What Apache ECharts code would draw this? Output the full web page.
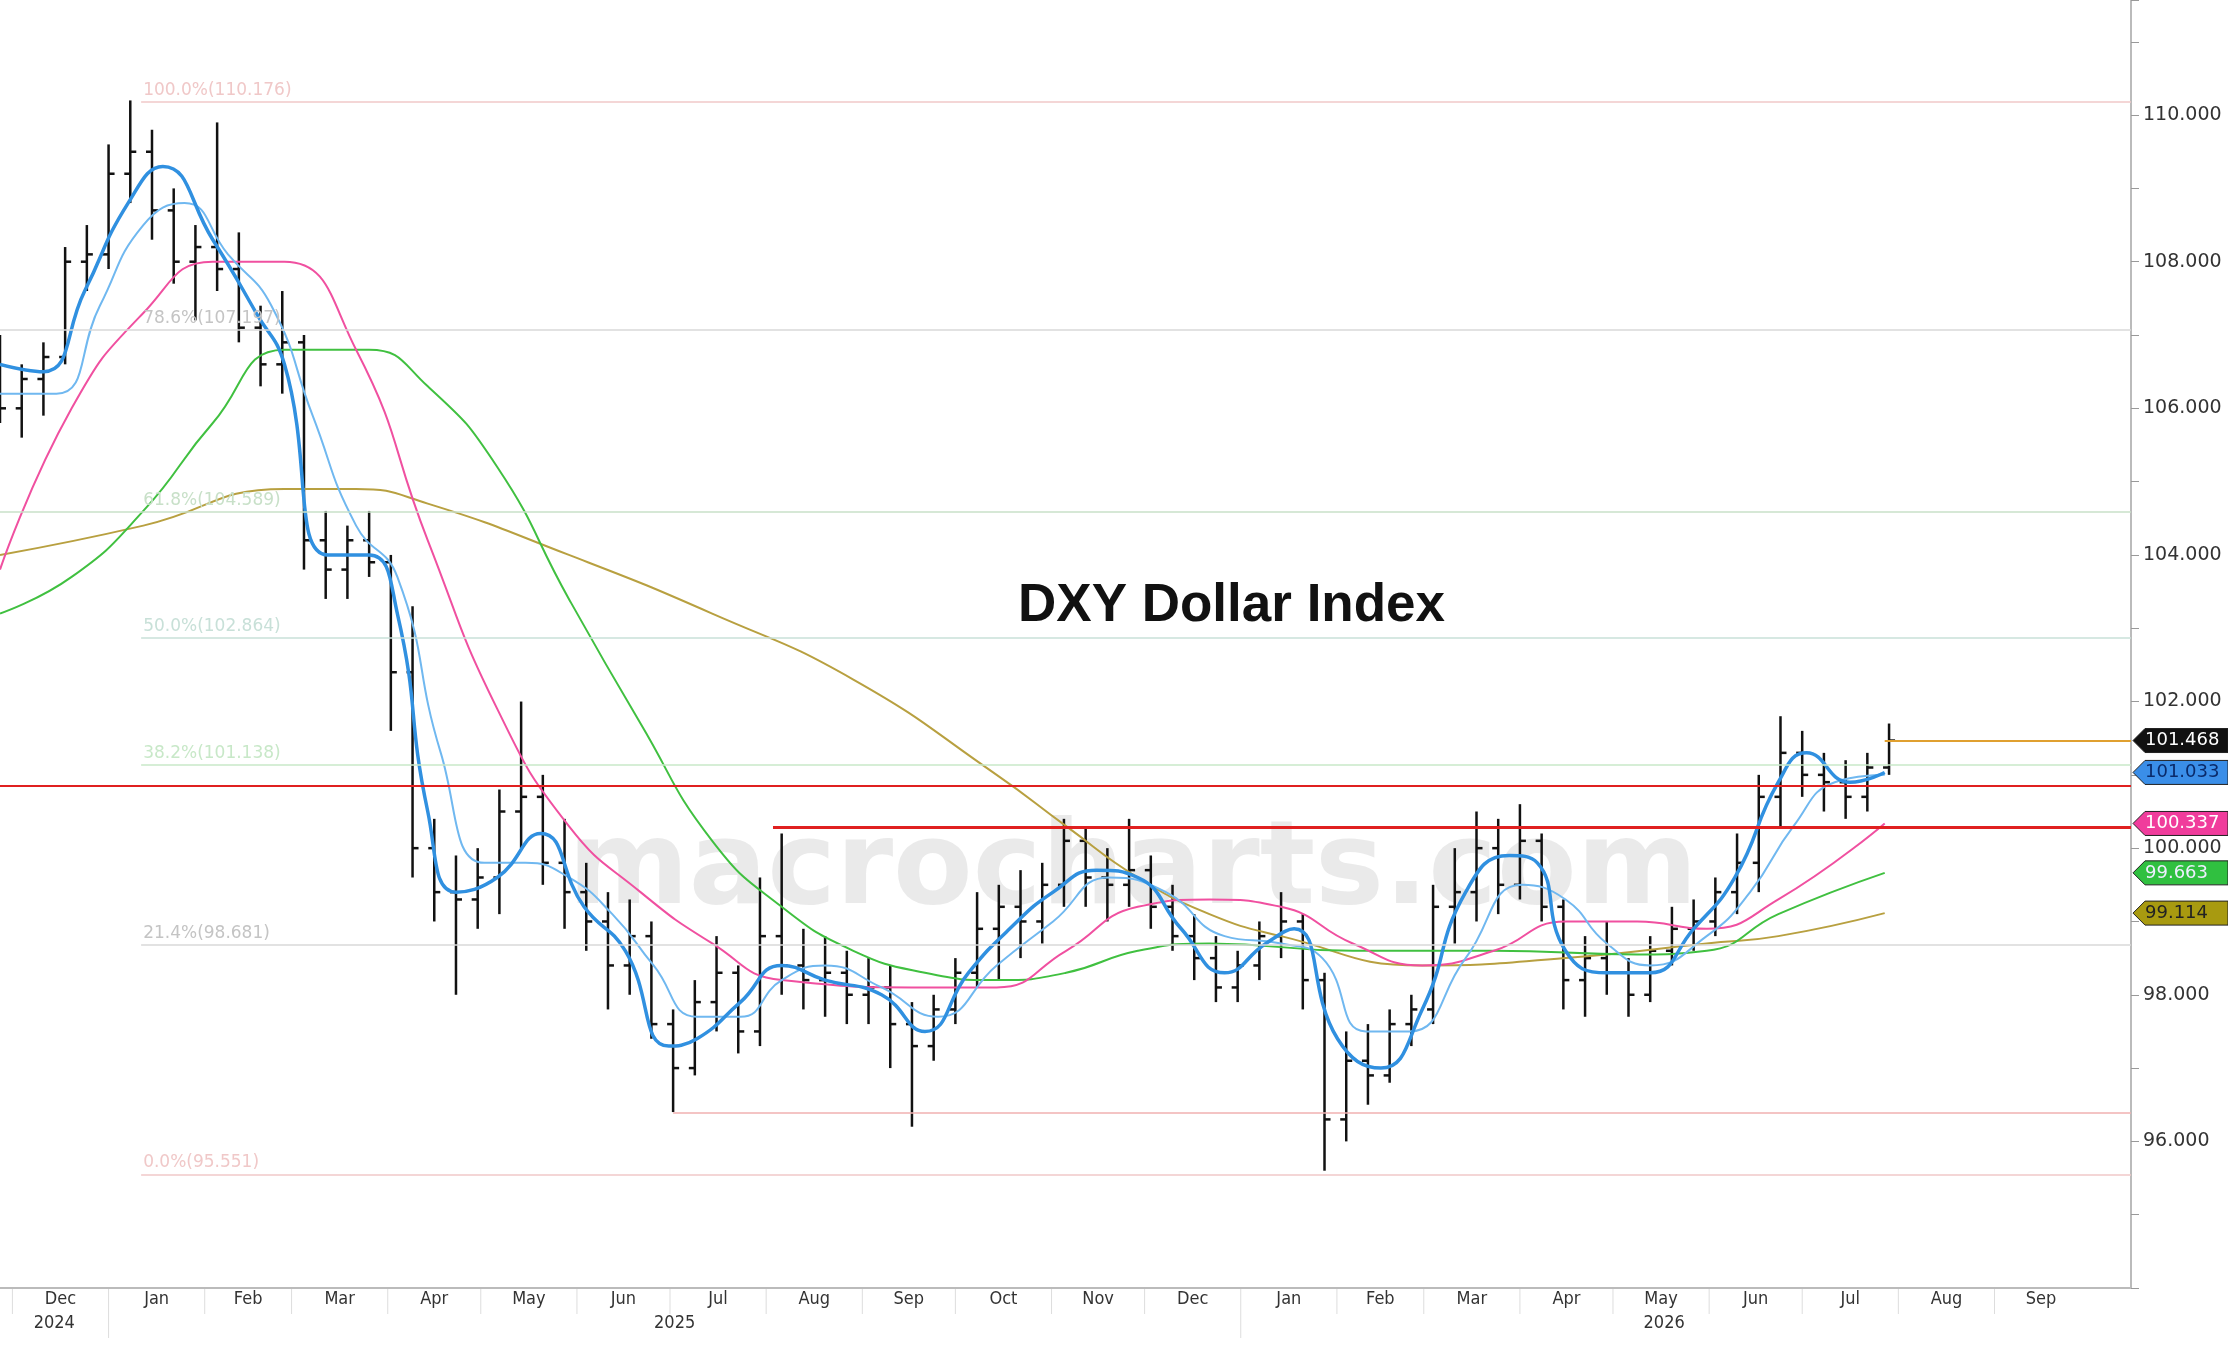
<!DOCTYPE html>
<html><head><meta charset="utf-8">
<script src="https://cdn.jsdelivr.net/npm/echarts@6/dist/echarts.min.js"></script>
<style>html,body{margin:0;padding:0;background:#fff}#c{width:2228px;height:1364px}</style>
</head><body><div id="c"></div>
<script>
// weekly bars, week 0 = 2024-11-27
var startDate = Date.UTC(2024, 10, 27);
var endDate = Date.UTC(2026, 9, 15);

// [open, high, low, close]
var ohlc = [
 [106.5,107.0,105.8,106.0],[106.0,106.6,105.6,106.4],[106.4,106.9,105.9,106.7],[106.7,108.2,106.6,108.0],
 [108.0,108.5,107.6,108.1],[108.1,109.6,107.9,109.2],[109.2,110.2,108.8,109.5],[109.5,109.8,108.3,108.7],
 [108.7,109.0,107.7,108.0],[108.0,108.5,107.2,108.2],[108.2,109.9,107.6,107.9],[107.9,108.4,106.9,107.1],
 [107.1,107.4,106.3,106.6],[106.6,107.6,106.2,106.9],[106.9,107.0,103.8,104.2],[104.2,104.6,103.4,103.8],
 [103.8,104.4,103.4,104.2],[104.2,104.6,103.7,103.9],[103.9,104.0,101.6,102.4],[102.4,103.3,99.6,100.0],
 [100.0,100.4,99.0,99.4],[99.4,99.9,98.0,99.3],[99.3,100.0,98.9,99.6],[99.6,100.8,99.1,100.5],
 [100.5,102.0,100.0,100.7],[100.7,101.0,99.5,99.8],[99.8,100.4,98.9,99.4],[99.4,99.8,98.6,99.0],
 [99.0,99.4,97.8,98.4],[98.4,99.3,98.0,98.8],[98.8,99.0,97.4,97.6],[97.6,97.8,96.4,97.0],
 [97.0,98.2,96.9,97.9],[97.9,98.8,97.5,98.3],[98.3,98.4,97.2,97.5],[97.5,99.6,97.3,98.8],
 [98.8,100.2,98.0,98.4],[98.4,98.9,97.8,98.2],[98.2,98.8,97.7,98.3],[98.3,98.6,97.6,98.0],
 [98.0,98.5,97.6,98.1],[98.1,98.4,97.0,97.6],[97.6,97.9,96.2,97.3],[97.3,98.0,97.1,97.8],
 [97.8,98.5,97.6,98.3],[98.3,99.4,98.1,98.9],[98.9,99.5,98.2,99.2],[99.2,99.7,98.5,99.0],
 [99.0,99.8,98.7,99.5],[99.5,100.4,99.2,100.1],[100.1,100.3,99.2,99.6],[99.6,100.0,99.0,99.5],
 [99.5,100.4,99.2,99.7],[99.7,99.9,98.9,99.2],[99.2,99.5,98.6,98.8],[98.8,99.1,98.2,98.5],
 [98.5,98.8,97.9,98.1],[98.1,98.6,97.9,98.4],[98.4,99.0,98.2,98.8],[98.8,99.4,98.5,99.0],
 [99.0,99.1,97.8,98.2],[98.2,98.3,95.6,96.3],[96.3,97.5,96.0,97.1],[97.1,97.6,96.5,96.9],
 [96.9,97.8,96.8,97.6],[97.6,98.0,97.3,97.8],[97.8,99.5,97.6,99.2],[99.2,100.0,98.7,99.4],
 [99.4,100.5,99.0,100.0],[100.0,100.4,99.1,99.5],[99.5,100.6,99.3,100.1],[100.1,100.2,99.0,99.2],
 [99.2,99.3,97.8,98.2],[98.2,98.8,97.7,98.5],[98.5,99.0,98.0,98.3],[98.3,98.5,97.7,98.0],
 [98.0,98.8,97.9,98.6],[98.6,99.2,98.4,98.9],[98.9,99.3,98.6,99.0],[99.0,99.6,98.8,99.4],
 [99.4,100.2,99.1,99.8],[99.8,101.0,99.4,100.7],[100.7,101.8,100.3,101.3],[101.3,101.6,100.7,101.0],
 [101.0,101.3,100.5,100.9],[100.9,101.2,100.4,100.7],[100.7,101.3,100.5,101.1],[101.1,101.7,101.0,101.468]
];

// moving averages as [week, value]
var ma10 = [[0,106.6],[2,106.5],[3.9,107.6],[5.9,108.8],[7.5,109.3],[9.8,108.3],[11.8,107.3],[13.1,106.6],
 [15.1,104.0],[17,104.0],[18.3,103.2],[19.7,100.5],[21,99.4],[22.9,99.6],[24.9,100.2],[26.9,99.2],[28.8,98.6],
 [30.8,97.3],[32.1,97.4],[34.1,97.9],[36,98.4],[38,98.2],[40.6,98.0],[42.6,97.5],[44.6,98.3],[46.5,98.9],
 [48.5,99.4],[50.5,99.7],[52.4,99.6],[54.4,98.9],[56.4,98.3],[58.3,98.7],[59.6,98.9],[61.6,97.4],[63.6,97.0],
 [65.5,97.8],[67.5,99.4],[69.5,99.9],[70.8,99.8],[72.1,98.6],[74,98.3],[76,98.3],[78,98.9],[79.9,99.6],
 [81.9,100.9],[83.2,101.3],[85.2,100.9],[86.8,101.033]];
var ma20 = [[0,106.2],[2.6,106.2],[4.6,107.4],[6.6,108.5],[8.5,108.8],[10.5,108.1],[12.5,107.4],[14.4,105.9],
 [16.4,104.4],[18.3,103.7],[20.3,101.3],[22.3,99.8],[24.2,99.8],[26.2,99.6],[28.2,99.1],[30.1,98.4],[32.1,97.7],
 [34.1,97.7],[36,98.2],[38,98.4],[40.6,98.1],[43.2,97.7],[45.9,98.4],[48.5,99.0],[51.1,99.6],[53.7,99.4],
 [56.4,98.8],[59,98.7],[60.9,98.5],[62.9,97.5],[64.9,97.5],[67.5,98.5],[70.1,99.5],[72.1,99.3],[74,98.7],
 [76,98.4],[78.6,98.8],[80.6,99.4],[82.6,100.3],[84.5,100.9],[86.8,101.0]];
var ma50 = [[0,103.8],[3.3,106],[6.6,107.3],[9.8,108],[13.1,108],[16.4,106.8],[19.7,104.2],[22.9,101.9],
 [26.2,100.3],[29.5,99.4],[32.8,98.7],[36,98.2],[42.6,98.1],[45.9,98.1],[49.1,98.6],[52.4,99.2],[55.7,99.3],
 [59,99.2],[62.3,98.7],[65.5,98.4],[68.8,98.6],[72.1,99.0],[75.4,99.0],[78.6,98.9],[81.9,99.3],[86.8,100.337]];
var ma100 = [[0,103.2],[3.3,103.7],[6.6,104.6],[9.8,105.8],[13.1,106.8],[17,106.8],[19.7,106.3],[22.9,105.2],
 [26.2,103.4],[29.5,101.7],[32.8,100.1],[36,99.2],[39.3,98.6],[42.6,98.3],[45.9,98.2],[49.1,98.3],[52.4,98.6],
 [55.7,98.7],[62.3,98.6],[68.8,98.6],[75.4,98.55],[78.6,98.6],[81.9,99.1],[86.8,99.663]];
var ma200 = [[0,104.0],[6.6,104.4],[13.1,104.9],[16.4,104.9],[19.7,104.7],[26.2,104.0],[32.8,103.2],[39.3,102.3],
 [45.9,101.0],[49.1,100.3],[52.4,99.6],[55.7,99.1],[59,98.8],[65.5,98.4],[72.1,98.5],[78.6,98.7],[81.9,98.8],[86.8,99.114]];

// [label, value, line start week, colour]
var levels = [
 ['100.0%(110.176)', 110.176, 6.5, '#f0c8c8'],
 ['78.6%(107.197)', 107.07, 0, '#d8d8d8'],
 ['61.8%(104.589)', 104.589, 0, '#c8e0c8'],
 ['50.0%(102.864)', 102.864, 6.5, '#c8e0d8'],
 ['38.2%(101.138)', 101.138, 6.5, '#c8e8c8'],
 ['21.4%(98.681)', 98.681, 6.5, '#d8d8d8'],
 ['0.0%(95.551)', 95.551, 6.5, '#f0c8c8']
];
var months = ['Dec','Jan','Feb','Mar','Apr','May','Jun','Jul','Aug','Sep','Oct','Nov','Dec','Jan','Feb','Mar','Apr','May','Jun','Jul','Aug','Sep'];

function wk(w) { return startDate + w * 7 * 86400000; }
function pts(a) { return a.map(function (p) { return [wk(p[0]), p[1]]; }); }

var bars = ohlc.map(function (b, i) { return [wk(i), b[0], b[1], b[2], b[3]]; });

function maLine(name, data, color, width) {
    return { name: name, type: 'line', data: pts(data), smooth: true, symbol: 'none',
        lineStyle: { color: color, width: width }, z: 3 };
}

function solid(c, w) { return { color: c, width: w, type: 'solid' }; }
var lineMarks = levels.map(function (l) {
    return [{ coord: [wk(l[2]), l[1]], lineStyle: solid(l[3], 1.5), label: { show: false } },
        { coord: [endDate, l[1]] }];
});
lineMarks.push([{ coord: [startDate, 100.85], lineStyle: solid('#e02020', 2) }, { coord: [endDate, 100.85] }]);
lineMarks.push([{ coord: [wk(35.6), 100.28], lineStyle: solid('#e02020', 3) }, { coord: [endDate, 100.28] }]);
lineMarks.push([{ coord: [wk(31), 96.39], lineStyle: solid('#f0b0b0', 1.5) }, { coord: [endDate, 96.39] }]);
lineMarks.push([{ coord: [wk(86.8), 101.468], lineStyle: solid('#e0a030', 2) }, { coord: [endDate, 101.468] }]);

var chart = echarts.init(document.getElementById('c'));
var option = {
    animation: false,
    grid: { left: 0, right: 97, top: 0, bottom: 76 },
    xAxis: {
        type: 'time', min: startDate, max: endDate,
        axisLine: { lineStyle: { color: '#bbb', width: 2 } },
        axisTick: { show: false }, axisLabel: { show: false }, splitLine: { show: false }
    },
    yAxis: {
        type: 'value', position: 'right', min: 94, max: 111.57, interval: 1,
        axisLine: { show: true, lineStyle: { color: '#bbb', width: 2 } },
        axisTick: { show: true, length: 8, lineStyle: { color: '#999' } },
        splitLine: { show: false },
        axisLabel: {
            color: '#333', fontSize: 19, fontFamily: 'DejaVu Sans', margin: 12,
            formatter: function (v) { return (v % 2 === 0 && v >= 96 && v <= 110) ? v.toFixed(3) : ''; }
        }
    },
    graphic: [
        { type: 'text', left: 568, top: 815, z: 0, silent: true,
          style: { text: 'macrocharts.com', font: 'bold 116px "DejaVu Sans"', fill: 'rgba(200,200,200,0.38)' } },
        { type: 'text', left: 1018, top: 580, z: 10,
          style: { text: 'DXY Dollar Index', font: 'bold 53px "Liberation Sans"', fill: '#111' } }
    ],
    series: [
        { name: 'levels', type: 'line', data: [], markLine: { symbol: 'none', silent: true, data: lineMarks }, z: 1 },
        maLine('200d', ma200, '#b8a040', 2),
        maLine('100d', ma100, '#40c040', 2),
        maLine('50d', ma50, '#f050a0', 2),
        maLine('20d', ma20, '#70b8f0', 2),
        maLine('10d', ma10, '#3090e0', 3.5),
        {
            name: 'DXY', type: 'custom', z: 2, data: bars,
            renderItem: function (params, api) {
                var x = api.coord([api.value(0), 0])[0];
                var o = api.coord([api.value(0), api.value(1)])[1];
                var h = api.coord([api.value(0), api.value(2)])[1];
                var l = api.coord([api.value(0), api.value(3)])[1];
                var c = api.coord([api.value(0), api.value(4)])[1];
                var st = { stroke: '#111', lineWidth: 2.5 };
                return { type: 'group', children: [
                    { type: 'line', shape: { x1: x, y1: h, x2: x, y2: l }, style: st },
                    { type: 'line', shape: { x1: x - 6, y1: o, x2: x, y2: o }, style: st },
                    { type: 'line', shape: { x1: x, y1: c, x2: x + 6, y2: c }, style: st }
                ] };
            }
        }
    ]
};
chart.setOption(option);

var g = [];
// fib labels at a common left position
var labelX = chart.convertToPixel({ xAxisIndex: 0 }, wk(6.5)) + 2;
levels.forEach(function (l) {
    var y = chart.convertToPixel({ yAxisIndex: 0 }, l[1]);
    g.push({ type: 'text', x: labelX, y: y - 3, z: 4,
        style: { text: l[0], font: '17px "DejaVu Sans"', fill: l[3] === '#d8d8d8' ? '#c4c4c4' : l[3], verticalAlign: 'bottom' } });
});
// month / year labels below the axis
var axisY = 1364 - 76;
var mStart = [];
for (var i = 0; i <= months.length; i++) mStart.push(Date.UTC(2024, 11 + i, 1));
for (var i = 0; i < months.length; i++) {
    var x0 = chart.convertToPixel({ xAxisIndex: 0 }, mStart[i]);
    var x1 = chart.convertToPixel({ xAxisIndex: 0 }, mStart[i + 1]);
    g.push({ type: 'text', x: (x0 + x1) / 2, y: axisY + 2,
        style: { text: months[i], font: '18px "DejaVu Sans Condensed"', fill: '#333', align: 'center' } });
    var yr = (i === 1 || i === 13);
    g.push({ type: 'line', shape: { x1: x0, y1: axisY, x2: x0, y2: axisY + (yr ? 50 : 26) },
        style: { stroke: '#ddd', lineWidth: 1 } });
}
var yearSpans = [['2024', startDate, mStart[1]], ['2025', mStart[1], mStart[13]], ['2026', mStart[13], mStart[22]]];
yearSpans.forEach(function (s) {
    var a = Math.max(0, chart.convertToPixel({ xAxisIndex: 0 }, s[1]));
    var b = chart.convertToPixel({ xAxisIndex: 0 }, s[2]);
    g.push({ type: 'text', x: (a + b) / 2, y: axisY + 26,
        style: { text: s[0], font: '18px "DejaVu Sans Condensed"', fill: '#333', align: 'center' } });
});
// last-value tags on the right axis
var tags = [[101.468, '#111', '#fff'], [101.033, '#3a8ee8', '#0a2a6a'], [100.337, '#f03c9c', '#fff'],
            [99.663, '#30c040', '#eef'], [99.114, '#a89a10', '#222']];
var ax = 2131;
tags.forEach(function (t) {
    var y = chart.convertToPixel({ yAxisIndex: 0 }, t[0]);
    g.push({ type: 'polygon', shape: { points: [[ax + 2, y], [ax + 14, y - 12], [ax + 97, y - 12], [ax + 97, y + 12], [ax + 14, y + 12]] },
        style: { fill: t[1], stroke: '#222', lineWidth: 1 }, z: 20 });
    g.push({ type: 'text', x: ax + 14, y: y, z: 21,
        style: { text: t[0].toFixed(3), font: '18px "DejaVu Sans"', fill: t[2], verticalAlign: 'middle' } });
});
chart.setOption({ graphic: option.graphic.concat(g) });
</script>
</body></html>
